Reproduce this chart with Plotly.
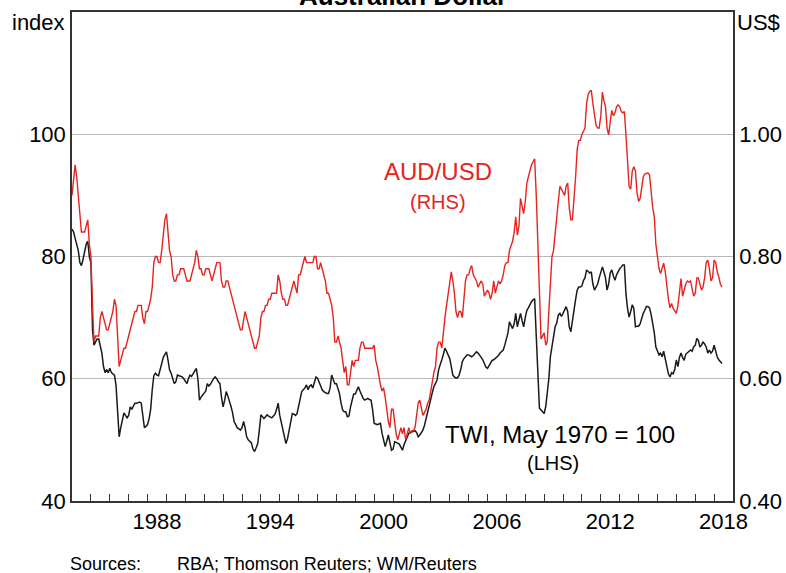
import pandas as pd
import plotly.graph_objects as go

# ---------------- data (monthly, Jan 1984 - Jun 2018) ----------------
aud_usd = [
    0.90, 0.93, 0.95, 0.93, 0.90, 0.87, 0.84, 0.84, 0.84, 0.85, 0.86, 0.82,  # 1984
    0.80, 0.72, 0.66, 0.67, 0.67, 0.67, 0.70, 0.71, 0.70, 0.69, 0.68, 0.68,  # 1985
    0.69, 0.70, 0.71, 0.73, 0.72, 0.67, 0.62, 0.63, 0.64, 0.65, 0.65, 0.66,  # 1986
    0.67, 0.68, 0.69, 0.70, 0.71, 0.71, 0.72, 0.72, 0.72, 0.70, 0.69, 0.71,  # 1987
    0.71, 0.72, 0.73, 0.75, 0.79, 0.80, 0.80, 0.79, 0.79, 0.81, 0.84, 0.86,  # 1988
    0.87, 0.83, 0.81, 0.80, 0.77, 0.76, 0.76, 0.77, 0.77, 0.78, 0.78, 0.78,  # 1989
    0.77, 0.76, 0.76, 0.76, 0.77, 0.78, 0.79, 0.81, 0.80, 0.78, 0.78, 0.77,  # 1990
    0.77, 0.78, 0.78, 0.78, 0.77, 0.76, 0.77, 0.78, 0.79, 0.79, 0.79, 0.76,  # 1991
    0.75, 0.75, 0.76, 0.76, 0.75, 0.74, 0.73, 0.72, 0.71, 0.70, 0.69, 0.68,  # 1992
    0.68, 0.70, 0.71, 0.70, 0.69, 0.68, 0.67, 0.66, 0.65, 0.65, 0.66, 0.67,  # 1993
    0.70, 0.71, 0.71, 0.72, 0.72, 0.73, 0.73, 0.74, 0.74, 0.74, 0.74, 0.77,  # 1994
    0.76, 0.74, 0.73, 0.73, 0.72, 0.72, 0.73, 0.74, 0.75, 0.76, 0.75, 0.74,  # 1995
    0.77, 0.77, 0.78, 0.79, 0.80, 0.79, 0.79, 0.79, 0.79, 0.79, 0.80, 0.80,  # 1996
    0.78, 0.78, 0.79, 0.78, 0.77, 0.76, 0.74, 0.74, 0.73, 0.72, 0.70, 0.66,  # 1997
    0.66, 0.67, 0.66, 0.65, 0.63, 0.61, 0.62, 0.59, 0.59, 0.61, 0.63, 0.62,  # 1998
    0.63, 0.63, 0.63, 0.65, 0.66, 0.66, 0.65, 0.65, 0.65, 0.65, 0.65, 0.65,  # 1999
    0.655, 0.63, 0.62, 0.60, 0.59, 0.58, 0.585, 0.57, 0.55, 0.53, 0.52, 0.55,  # 2000
    0.55, 0.53, 0.51, 0.50, 0.51, 0.52, 0.51, 0.52, 0.50, 0.51, 0.52, 0.51,  # 2001
    0.515, 0.515, 0.52, 0.54, 0.56, 0.565, 0.55, 0.54, 0.545, 0.55, 0.56, 0.565,  # 2002
    0.58, 0.60, 0.61, 0.62, 0.65, 0.66, 0.66, 0.65, 0.68, 0.70, 0.72, 0.74,  # 2003
    0.76, 0.775, 0.76, 0.74, 0.71, 0.70, 0.71, 0.71, 0.70, 0.73, 0.76, 0.77,  # 2004
    0.77, 0.78, 0.785, 0.77, 0.765, 0.76, 0.75, 0.755, 0.76, 0.755, 0.735, 0.74,  # 2005
    0.745, 0.74, 0.73, 0.74, 0.76, 0.74, 0.75, 0.76, 0.755, 0.76, 0.77, 0.785,  # 2006
    0.79, 0.79, 0.81, 0.82, 0.825, 0.84, 0.865, 0.835, 0.85, 0.895, 0.88, 0.87,  # 2007
    0.89, 0.92, 0.93, 0.94, 0.95, 0.955, 0.96, 0.90, 0.82, 0.71, 0.665, 0.67,  # 2008
    0.675, 0.655, 0.66, 0.71, 0.75, 0.80, 0.81, 0.84, 0.86, 0.89, 0.915, 0.91,  # 2009
    0.905, 0.90, 0.915, 0.92, 0.88, 0.86, 0.86, 0.89, 0.93, 0.975, 0.99, 0.99,  # 2010
    1.00, 1.005, 1.01, 1.05, 1.065, 1.07, 1.072, 1.05, 1.03, 1.015, 1.01, 1.01,  # 2011
    1.03, 1.069, 1.055, 1.045, 1.01, 0.999, 1.02, 1.039, 1.03, 1.035, 1.045, 1.048,  # 2012
    1.045, 1.037, 1.035, 1.037, 1.00, 0.96, 0.915, 0.91, 0.94, 0.947, 0.94, 0.905,  # 2013
    0.89, 0.895, 0.91, 0.93, 0.935, 0.936, 0.937, 0.933, 0.905, 0.88, 0.865, 0.82,  # 2014
    0.80, 0.78, 0.772, 0.78, 0.789, 0.775, 0.75, 0.73, 0.716, 0.723, 0.715, 0.71,  # 2015
    0.707, 0.72, 0.745, 0.764, 0.735, 0.745, 0.755, 0.76, 0.758, 0.76, 0.745, 0.735,  # 2016
    0.74, 0.765, 0.765, 0.755, 0.745, 0.75, 0.765, 0.79, 0.794, 0.78, 0.76, 0.765,  # 2017
    0.794, 0.79, 0.775, 0.767, 0.755, 0.75,  # 2018
]

twi = [
    84.5, 84.0, 83.0, 82.0, 81.0, 79.0, 78.5, 79.5, 81.0, 82.0, 82.5, 80.0,  # 1984
    79.0, 68.0, 65.5, 66.0, 66.5, 66.5, 65.5, 64.2, 62.0, 61.0, 61.5, 61.0,  # 1985
    61.7, 61.0, 60.8, 60.6, 59.0, 55.0, 50.5, 52.0, 53.5, 54.4, 54.0, 53.6,  # 1986
    54.0, 55.4, 55.0, 55.5, 56.0, 56.0, 56.1, 56.2, 56.0, 54.0, 52.0, 52.2,  # 1987
    52.5, 53.5, 55.0, 58.2, 60.5, 60.9, 60.6, 60.5, 61.7, 62.5, 63.5, 64.0,  # 1988
    64.4, 63.0, 61.5, 60.9, 60.0, 59.2, 59.5, 60.6, 60.5, 60.4, 60.3, 60.0,  # 1989
    59.5, 59.2, 60.0, 60.6, 60.4, 60.8, 61.2, 61.7, 60.0, 56.5, 57.0, 57.4,  # 1990
    57.6, 58.0, 59.2, 58.8, 59.1, 59.6, 60.0, 60.3, 60.0, 59.5, 59.2, 57.0,  # 1991
    55.4, 56.5, 57.9, 57.2, 56.5, 55.5, 54.5, 53.0, 52.5, 52.0, 51.8, 51.6,  # 1992
    52.0, 53.0, 52.0, 50.5, 50.0, 49.7, 49.5, 48.5, 48.1, 48.7, 49.4, 51.5,  # 1993
    54.1, 53.8, 53.5, 53.8, 54.1, 53.9, 53.8, 53.6, 53.9, 54.2, 55.0, 56.0,  # 1994
    54.0, 52.7, 51.5, 50.5, 49.4, 50.2, 51.6, 52.8, 54.3, 54.2, 54.0, 54.3,  # 1995
    55.5, 57.0, 57.9, 58.2, 58.5, 59.0, 58.2, 58.8, 59.0, 58.5, 59.5, 60.3,  # 1996
    60.1, 59.5, 58.7, 58.2, 57.9, 57.7, 57.6, 57.6, 58.5, 60.6, 60.0, 59.2,  # 1997
    59.2, 58.5, 57.6, 56.0, 54.9, 54.6, 54.6, 53.8, 53.9, 55.4, 56.5, 57.5,  # 1998
    57.5, 58.0, 58.7, 58.0, 57.3, 56.8, 56.5, 56.7, 56.8, 56.6, 56.5, 55.0,  # 1999
    52.7, 52.6, 52.5, 52.6, 52.7, 51.1, 50.0, 48.9, 49.8, 50.8, 49.5, 48.3,  # 2000
    48.5, 49.7, 49.6, 49.5, 49.3, 48.8, 48.3, 49.2, 49.9, 50.3, 51.1, 51.2,  # 2001
    51.3, 51.4, 51.5, 51.2, 50.5, 50.8, 51.3, 51.6, 52.4, 53.5, 54.9, 55.5,  # 2002
    57.1, 57.8, 58.7, 59.3, 59.8, 61.5, 62.5, 63.1, 64.0, 65.0, 64.5, 63.8,  # 2003
    63.3, 62.0, 60.6, 60.3, 60.1, 60.2, 60.6, 61.5, 62.8, 63.3, 63.6, 63.9,  # 2004
    63.9, 63.8, 63.6, 63.8, 64.1, 64.4, 64.2, 63.9, 63.5, 63.1, 62.4, 61.9,  # 2005
    61.7, 62.2, 62.5, 63.0, 63.1, 63.3, 63.5, 63.8, 64.2, 64.4, 64.7, 65.5,  # 2006
    66.6, 67.5, 69.3, 68.8, 68.2, 69.0, 70.7, 68.5, 69.5, 70.7, 69.5, 68.5,  # 2007
    70.0, 71.2, 71.6, 72.2, 72.6, 72.9, 73.1, 67.0, 60.0, 55.2, 54.9, 54.5,  # 2008
    54.3, 55.5, 57.6, 60.0, 63.6, 65.2, 66.3, 68.5, 69.1, 70.4, 70.7, 70.2,  # 2009
    70.7, 71.2, 71.8, 71.0, 68.5, 67.7, 69.5, 71.8, 73.0, 74.5, 75.0, 75.0,  # 2010
    75.2, 76.1, 76.5, 77.8, 77.5, 77.3, 77.5, 75.5, 74.5, 75.0, 75.5, 76.5,  # 2011
    77.3, 78.3, 77.5, 76.5, 74.5, 75.5, 77.3, 77.8, 76.8, 76.1, 77.0, 77.6,  # 2012
    78.0, 78.3, 78.6, 78.6, 74.0, 71.5, 70.1, 71.0, 72.1, 71.5, 68.5, 68.6,  # 2013
    68.6, 69.0, 70.0, 70.7, 71.2, 71.8, 71.8, 71.6, 70.5, 69.1, 67.5, 65.2,  # 2014
    64.5, 63.9, 64.2, 63.6, 64.5, 63.1, 62.0, 60.8, 60.3, 61.0, 60.8, 61.5,  # 2015
    63.1, 62.0, 63.5, 64.2, 63.5, 63.0, 64.0, 64.2, 64.5, 64.7, 64.5, 65.2,  # 2016
    65.5, 66.6, 66.3, 65.2, 65.5, 66.0, 65.7, 65.2, 64.2, 64.7, 64.2, 64.5,  # 2017
    65.5, 64.3, 63.6, 63.1, 62.8, 62.5,  # 2018
]

label_years = [1988, 1994, 2000, 2006, 2012, 2018]
tick_years = list(range(1985, 2019))
left_ticks = [40, 60, 80, 100]
right_ticks = [0.40, 0.60, 0.80, 1.00]

months = pd.date_range("1984-01-01", periods=len(twi), freq="MS")

RED = "#e52421"
BLACK = "#1a1a1a"
FONT = "Liberation Sans, Arial, sans-serif"

fig = go.Figure()
fig.add_trace(go.Scatter(x=months, y=twi, mode="lines", line=dict(color=BLACK, width=1.5),
                         yaxis="y", showlegend=False, hoverinfo="skip"))
fig.add_trace(go.Scatter(x=months[:len(aud_usd)], y=aud_usd, mode="lines",
                         line=dict(color=RED, width=1.4), yaxis="y2",
                         showlegend=False, hoverinfo="skip"))

fig.update_layout(
    width=786, height=573,
    margin=dict(l=72, r=53, t=12, b=72),
    paper_bgcolor="white", plot_bgcolor="white",
    font=dict(family=FONT, size=22, color="black"),
    xaxis=dict(
        type="date", automargin=False,
        range=["1984-01-01", "2019-01-01"],
        tickmode="array",
        tickvals=[f"{y}-07-02" for y in label_years],
        ticktext=[str(y) for y in label_years],
        ticks="inside", ticklen=0, tickcolor="#333",
        minor=dict(tickmode="array", tickvals=[f"{y}-01-01" for y in tick_years],
                   ticks="inside", ticklen=7, tickcolor="#333", tickwidth=1, showgrid=False),
        showgrid=False, zeroline=False,
        showline=True, linecolor="#333", linewidth=1.5, mirror=True,
        tickfont=dict(size=22),
    ),
    yaxis=dict(
        automargin=False,
        range=[40, 120], tickmode="array", tickvals=left_ticks,
        ticktext=[str(v) for v in left_ticks],
        showgrid=True, gridcolor="#b8b8b8", gridwidth=1, zeroline=False,
        showline=True, linecolor="#333", linewidth=1.5, ticks="",
        tickfont=dict(size=22),
    ),
    yaxis2=dict(
        automargin=False,
        overlaying="y", side="right",
        range=[0.40, 1.20], tickmode="array", tickvals=right_ticks,
        ticktext=[f"{v:.2f}" for v in right_ticks],
        showgrid=False, zeroline=False,
        showline=True, linecolor="#333", linewidth=1.5, ticks="",
        tickfont=dict(size=22),
    ),
)

annotations = [
    dict(text="<b>Australian Dollar</b>", x=0.5, y=1.0, xref="paper", yref="paper",
         xanchor="center", yanchor="bottom", yshift=-1, showarrow=False,
         font=dict(size=26, family=FONT, color="black")),
    dict(text="index", x=0, y=1, xref="paper", yref="paper", xanchor="right",
         yanchor="middle", xshift=-5, yshift=-10, showarrow=False, font=dict(size=22)),
    dict(text="US$", x=1, y=1, xref="paper", yref="paper", xanchor="left",
         yanchor="middle", xshift=2, yshift=-10, showarrow=False, font=dict(size=22)),
    dict(text="AUD/USD", x=0.5536, y=0.673, xref="paper", yref="paper", xanchor="center",
         yanchor="middle", showarrow=False, font=dict(size=24, color=RED)),
    dict(text="(RHS)", x=0.5536, y=0.612, xref="paper", yref="paper", xanchor="center",
         yanchor="middle", showarrow=False, font=dict(size=20, color=RED)),
    dict(text="TWI, May 1970 = 100", x=0.7387, y=0.135, xref="paper", yref="paper",
         xanchor="center", yanchor="middle", showarrow=False, font=dict(size=24, color="black")),
    dict(text="(LHS)", x=0.728, y=0.078, xref="paper", yref="paper", xanchor="center",
         yanchor="middle", showarrow=False, font=dict(size=20, color="black")),
    dict(text="Sources:\u2003\u2003RBA; Thomson Reuters; WM/Reuters", x=-0.006, y=-0.128,
         xref="paper", yref="paper", xanchor="left", yanchor="middle", showarrow=False,
         font=dict(size=18, color="black")),
]
fig.update_layout(annotations=annotations)

fig.write_html("out.html", config={"displayModeBar": False},
               post_script="document.body.style.margin='0';document.body.style.padding='0';")
